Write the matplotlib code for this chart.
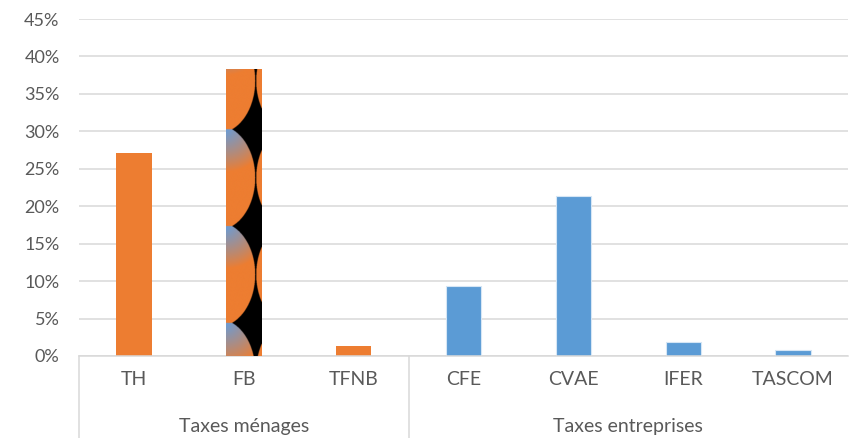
import numpy as np
import matplotlib.pyplot as plt
import matplotlib.transforms as mtransforms

# Share of each tax in total revenue (%)
categories = ['TH', 'FB', 'TFNB', 'CFE', 'CVAE', 'IFER', 'TASCOM']
shares = [27.1, 38.2, 1.4, 9.3, 21.3, 1.9, 0.8]
groups = ['Taxes ménages', 'Taxes entreprises']
group_sizes = [3, 4]
y_ticks = [0, 5, 10, 15, 20, 25, 30, 35, 40, 45]

ORANGE = '#ED7D31'
BLUE = '#5B9BD5'
GRID = '#D9D9D9'
TEXT = '#595959'
bar_colors = [ORANGE] * group_sizes[0] + [BLUE] * group_sizes[1]

plt.rcParams['font.family'] = ['Lato', 'DejaVu Sans']

fig = plt.figure(figsize=(8.5, 4.38), dpi=100)
ax = fig.add_axes([79 / 850, 82 / 438, 769 / 850, 337 / 438])

x = np.arange(len(categories))
bar_w = 0.32
bars = ax.bar(x, shares, width=bar_w, color=bar_colors, zorder=2)
for b, c in zip(bars, bar_colors):
    if c == BLUE:
        b.set_edgecolor('#d6e6f5')
        b.set_linewidth(0.8)

ax.set_xlim(-0.5, len(categories) - 0.5)
ax.set_ylim(0, 45)


def picture_fill(w_px, h_px, k=4):
    # orange tiles with a blue radial glow and black cusped gaps
    s = w_px / 35.0
    nu, nv = int(round(w_px * k)), int(round(h_px * k))
    u = (np.arange(nu) + 0.5) / k
    v = h_px - (np.arange(nv) + 0.5) / k
    U, V = np.meshgrid(u, v)
    period = 96 * s
    t = np.mod(V - 33 * s, period)
    a, b = 36.6 * s, 52 * s
    cl, cr = 28.5 * s - a, 29.5 * s + a
    inside = np.zeros_like(U, dtype=bool)
    for dt in (-period, 0, period):
        dy = t - period / 2 + dt
        inside |= ((U - cl) / a) ** 2 + (dy / b) ** 2 <= 1
        inside |= ((U - cr) / a) ** 2 + (dy / b) ** 2 <= 1
    d = np.sqrt(U ** 2 + (period - t) ** 2) / (42 * s)
    w = np.clip(1 - d, 0, 1) ** 0.9
    org = np.array([0xED, 0x7D, 0x31]) / 255
    blu = np.array([0x6A, 0x9C, 0xD6]) / 255
    img = org * (1 - w[..., None]) + blu * w[..., None]
    img[~inside] = 0
    return img


# picture-filled FB bar
fb = bars[1]
x0, x1 = fb.get_x(), fb.get_x() + fb.get_width()
(px0, py0), (px1, py1) = ax.transData.transform([(x0, 0), (x1, fb.get_height())])
tex = picture_fill(px1 - px0, py1 - py0)
ax.imshow(tex, extent=[x0, x1, 0, fb.get_height()], origin='upper',
          aspect='auto', interpolation='bilinear', zorder=3, clip_path=fb)
ax.set_xlim(-0.5, len(categories) - 0.5)
ax.set_ylim(0, 45)

# y axis
ax.set_yticks(y_ticks)
ax.set_yticklabels([f'{v}%' for v in y_ticks])
ax.tick_params(axis='y', length=0, pad=14, labelsize=13, labelcolor=TEXT)
ax.set_xticks([])
ax.grid(axis='y', color=GRID, linewidth=1.1, zorder=0)
ax.set_axisbelow(True)
for side in ['top', 'right', 'left']:
    ax.spines[side].set_visible(False)
ax.spines['bottom'].set_color(GRID)
ax.spines['bottom'].set_linewidth(1.1)

# two-level category axis
trans = mtransforms.blended_transform_factory(ax.transData, ax.transAxes)
bottom = -82 / 337
for i, cat in enumerate(categories):
    ax.text(i, -0.071, cat, transform=trans, ha='center', va='center',
            fontsize=14, color=TEXT)
start = 0
for g, n in zip(groups, group_sizes):
    ax.plot([start - 0.5, start - 0.5], [0, bottom], transform=trans,
            color=GRID, linewidth=1.1, clip_on=False)
    ax.text(start + (n - 1) / 2, -0.21, g, transform=trans, ha='center',
            va='center', fontsize=14, color=TEXT)
    start += n

fig.savefig('out.png', dpi=100)
